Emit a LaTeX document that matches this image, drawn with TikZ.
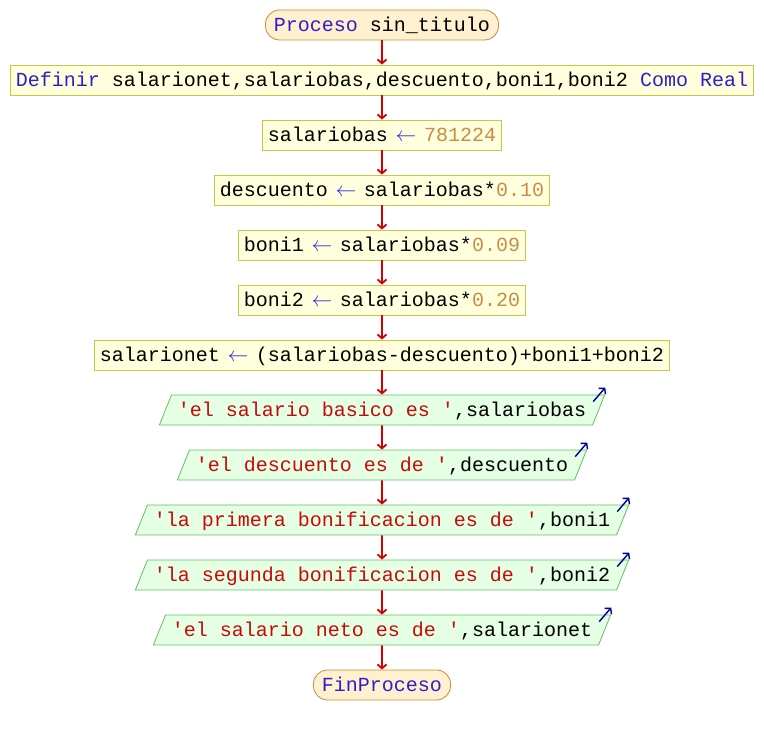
\documentclass[tikz,border=0pt]{standalone}
\usepackage{fontspec}
\newfontfamily\pseintfont{Liberation Mono}
\usetikzlibrary{arrows.meta,shapes.geometric}
\usepackage{xcolor}

\definecolor{procfill}{RGB}{255,255,221}
\definecolor{procline}{RGB}{200,200,70}
\definecolor{termfill}{RGB}{255,240,208}
\definecolor{termline}{RGB}{200,140,60}
\definecolor{iofill}{RGB}{228,255,228}
\definecolor{ioline}{RGB}{100,190,100}
\definecolor{kwcol}{RGB}{50,30,200}
\definecolor{numcol}{RGB}{200,140,70}
\definecolor{strcol}{RGB}{200,10,10}
\definecolor{opcol}{RGB}{40,40,230}
\definecolor{flowcol}{RGB}{210,0,0}
\definecolor{outcol}{RGB}{0,0,150}

\newcommand{\kw}[1]{\textcolor{kwcol}{#1}}
\newcommand{\num}[1]{\textcolor{numcol}{#1}}
\newcommand{\strng}[1]{\textcolor{strcol}{#1}}
\newcommand{\asig}{\makebox[0.6em][c]{\textcolor{opcol}{$\leftarrow$}}}
\newcommand{\apos}{\char"27\relax}

\begin{document}
\begin{tikzpicture}[x=1pt, y=1pt,
  every node/.style={
    rectangle,
    draw=procline,
    fill=procfill,
    line width=0.8pt,
    inner xsep=5.5pt,
    inner ysep=6pt,
    text height=15.5pt,
    text depth=2.5pt,
    font=\pseintfont\fontsize{20}{24}\selectfont
  },
  term/.style={rounded corners=14pt, draw=termline, fill=termfill, inner xsep=8.5pt},
  io/.style={trapezium, trapezium left angle=68, trapezium right angle=112,
    draw=ioline, fill=iofill, inner xsep=6.5pt},
  flow/.style={->, flowcol, line width=1.8pt},
  echo/.style={->, outcol, line width=1.4pt},
  >={Straight Barb[length=4pt,width=9pt]}
]
    \useasboundingbox (0,0) rectangle (764,-735);

    \node (proceso) [term, shift={(382,-25)}]
    {
        \kw{Proceso} sin\_titulo
    };

    \node (definir) [shift={(382,-80)}]
    {
        \kw{Definir} salarionet,salariobas,descuento,boni1,boni2 \kw{Como Real}
    };

    \node (asig_salariobas) [shift={(382,-135)}]
    {
        salariobas \asig{} \num{781224}
    };
    \node (asig_descuento) [shift={(382,-190)}]
    {
        descuento \asig{} salariobas*\num{0.10}
    };
    \node (asig_boni1) [shift={(382,-245)}]
    {
        boni1 \asig{} salariobas*\num{0.09}
    };
    \node (asig_boni2) [shift={(382,-300)}]
    {
        boni2 \asig{} salariobas*\num{0.20}
    };
    \node (asig_salarionet) [shift={(382,-355)}]
    {
        salarionet \asig{} (salariobas-descuento)+boni1+boni2
    };


    \node (escribir_basico) [io, shift={(382,-410)}]
    {
        \strng{\apos el salario basico es \apos},salariobas
    };
    \node (escribir_descuento) [io, shift={(382,-465)}]
    {
        \strng{\apos el descuento es de \apos},descuento
    };
    \node (escribir_boni1) [io, shift={(382,-520)}]
    {
        \strng{\apos la primera bonificacion es de \apos},boni1
    };
    \node (escribir_boni2) [io, shift={(382,-575)}]
    {
        \strng{\apos la segunda bonificacion es de \apos},boni2
    };
    \node (escribir_neto) [io, shift={(382,-630)}]
    {
        \strng{\apos el salario neto es de \apos},salarionet
    };

    \node (finproceso) [term, shift={(382,-685)}]
    {
        \kw{FinProceso}
    };

    \draw[flow] (proceso) to (definir);
    \draw[flow] (definir) to (asig_salariobas);
    \draw[flow] (asig_salariobas) to (asig_descuento);
    \draw[flow] (asig_descuento) to (asig_boni1);
    \draw[flow] (asig_boni1) to (asig_boni2);
    \draw[flow] (asig_boni2) to (asig_salarionet);
    \draw[flow] (asig_salarionet) to (escribir_basico);
    \draw[flow] (escribir_basico) to (escribir_descuento);
    \draw[flow] (escribir_descuento) to (escribir_boni1);
    \draw[flow] (escribir_boni1) to (escribir_boni2);
    \draw[flow] (escribir_boni2) to (escribir_neto);
    \draw[flow] (escribir_neto) to (finproceso);

    \draw[echo] ([shift={(-12,-7)}]escribir_basico.top right corner) to ([shift={(0,7)}]escribir_basico.top right corner);
    \draw[echo] ([shift={(-12,-7)}]escribir_descuento.top right corner) to ([shift={(0,7)}]escribir_descuento.top right corner);
    \draw[echo] ([shift={(-12,-7)}]escribir_boni1.top right corner) to ([shift={(0,7)}]escribir_boni1.top right corner);
    \draw[echo] ([shift={(-12,-7)}]escribir_boni2.top right corner) to ([shift={(0,7)}]escribir_boni2.top right corner);
    \draw[echo] ([shift={(-12,-7)}]escribir_neto.top right corner) to ([shift={(0,7)}]escribir_neto.top right corner);

\end{tikzpicture}
\end{document}
